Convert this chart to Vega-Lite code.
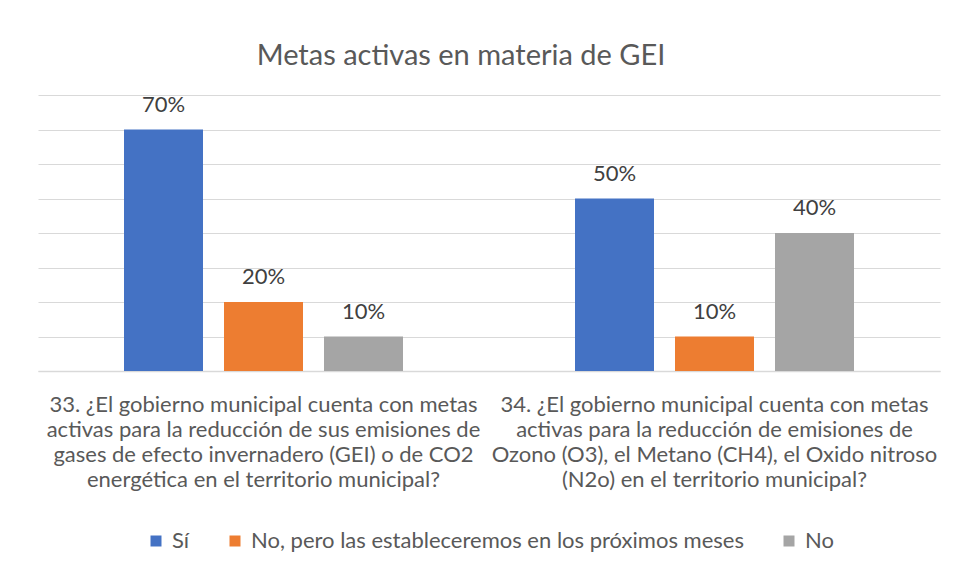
{
  "$schema": "https://vega.github.io/schema/vega-lite/v6.json",
  "width": 902,
  "height": 276,
  "autosize": "none",
  "padding": {"left": 38, "top": 95, "right": 18, "bottom": 206},
  "background": "white",
  "title": {"text": "Metas activas en materia de GEI", "fontSize": 29, "font": "Lato", "fontWeight": "normal", "color": "#595959", "anchor": "middle", "dx": -28, "offset": 23},
  "config": {"view": {"stroke": null}},
  "data": {"values": [
    {"pregunta": "33. ¿El gobierno municipal cuenta con metas\nactivas para la reducción de sus emisiones de\ngases de efecto invernadero (GEI) o de CO2\nenergética en el territorio municipal?", "respuesta": "Sí", "valor": 0.7},
    {"pregunta": "33. ¿El gobierno municipal cuenta con metas\nactivas para la reducción de sus emisiones de\ngases de efecto invernadero (GEI) o de CO2\nenergética en el territorio municipal?", "respuesta": "No, pero las estableceremos en los próximos meses", "valor": 0.2},
    {"pregunta": "33. ¿El gobierno municipal cuenta con metas\nactivas para la reducción de sus emisiones de\ngases de efecto invernadero (GEI) o de CO2\nenergética en el territorio municipal?", "respuesta": "No", "valor": 0.1},
    {"pregunta": "34. ¿El gobierno municipal cuenta con metas\nactivas para la reducción de emisiones de\nOzono (O3), el Metano (CH4), el Oxido nitroso\n(N2o) en el territorio municipal?", "respuesta": "Sí", "valor": 0.5},
    {"pregunta": "34. ¿El gobierno municipal cuenta con metas\nactivas para la reducción de emisiones de\nOzono (O3), el Metano (CH4), el Oxido nitroso\n(N2o) en el territorio municipal?", "respuesta": "No, pero las estableceremos en los próximos meses", "valor": 0.1},
    {"pregunta": "34. ¿El gobierno municipal cuenta con metas\nactivas para la reducción de emisiones de\nOzono (O3), el Metano (CH4), el Oxido nitroso\n(N2o) en el territorio municipal?", "respuesta": "No", "valor": 0.4}
  ]},
  "encoding": {
    "x": {"field": "pregunta", "type": "nominal", "sort": null,
      "scale": {"paddingInner": 0, "paddingOuter": 0},
      "axis": {"title": null, "labelAngle": 0, "labelExpr": "split(datum.label, '\\n')", "labelFontSize": 22, "labelFont": "Lato", "labelColor": "#595959", "labelLimit": 0, "labelLineHeight": 25, "labelPadding": 23, "ticks": false, "domain": true, "domainColor": "#d9d9d9", "domainWidth": 1.3}},
    "xOffset": {"field": "respuesta", "type": "nominal", "sort": ["Sí", "No, pero las estableceremos en los próximos meses", "No"],
      "scale": {"paddingInner": 0.21, "paddingOuter": 0.86}},
    "y": {"field": "valor", "type": "quantitative", "scale": {"domain": [0, 0.8]},
      "axis": {"title": null, "labels": false, "ticks": false, "domain": false, "values": [0, 0.1, 0.2, 0.3, 0.4, 0.5, 0.6, 0.7, 0.8], "gridColor": "#d9d9d9", "gridWidth": 1}}
  },
  "layer": [
    {"mark": {"type": "bar"},
     "encoding": {"color": {"field": "respuesta", "type": "nominal",
       "sort": ["Sí", "No, pero las estableceremos en los próximos meses", "No"],
       "scale": {"domain": ["Sí", "No, pero las estableceremos en los próximos meses", "No"], "range": ["#4472C4", "#ED7D31", "#A5A5A5"]},
       "legend": {"orient": "none", "legendX": 107, "legendY": 435, "direction": "horizontal", "title": null, "symbolType": "square", "symbolSize": 121, "symbolStrokeWidth": 0, "labelFontSize": 22, "labelFont": "Lato", "labelColor": "#595959", "columnPadding": 34, "labelOffset": 5, "labelLimit": 700}}}},
    {"mark": {"type": "text", "baseline": "alphabetic", "dy": -18, "fontSize": 22, "font": "Lato", "color": "#404040"},
     "encoding": {"text": {"field": "valor", "type": "quantitative", "format": ".0%"}}}
  ]
}
